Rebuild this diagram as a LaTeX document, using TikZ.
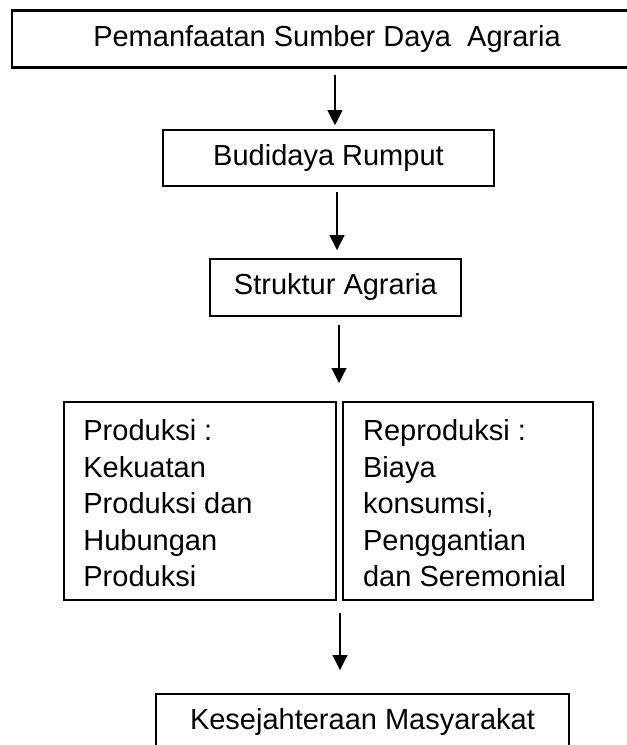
\documentclass[tikz,border=0pt]{standalone}
\usepackage{fontspec}
\setmainfont{Liberation Sans}
\usetikzlibrary{arrows.meta,positioning}

\begin{document}
\begin{tikzpicture}[
  x=0.5pt, y=-0.5pt,
  font=\fontsize{14.5}{18.25}\selectfont,
  box/.style={draw=black, line width=1.3pt, inner sep=0pt,
              text height=0.72em, text depth=0pt},
  txt/.style={align=left, inner sep=0pt, anchor=north west},
  arr/.style={-{Triangle[length=7.5pt,width=7.5pt]}, draw=black, line width=0.6pt}
]
\useasboundingbox (0,0) rectangle (627,745);

% Alur utama
\node[box, minimum width=315pt, minimum height=28.5pt] (pem) at (327,39)
     {Pemanfaatan Sumber Daya\ \ Agraria};
\node[box, minimum width=165.5pt, minimum height=28pt, below=30pt of pem,
      xshift=0.75pt] (bud) {Budidaya Rumput};
\node[box, minimum width=125.5pt, minimum height=28.5pt, below=35.2pt of bud,
      xshift=3.5pt] (str) {Struktur Agraria};

% Produksi dan reproduksi
\node[box, minimum width=136pt, minimum height=99pt] (prod) at (200,501) {};
\node[box, minimum width=125pt, minimum height=99pt] (repro) at (468,501) {};
\node[txt] (prodtxt) at ([xshift=10.15pt,yshift=-9.25pt]prod.north west)
     {Produksi :\\Kekuatan\\Produksi dan\\Hubungan\\Produksi};
\node[txt] (reprotxt) at ([xshift=10.5pt,yshift=-9.25pt]repro.north west)
     {Reproduksi :\\Biaya\\konsumsi,\\Penggantian\\dan Seremonial};

% Hasil
\node[box, minimum width=206.5pt, minimum height=28.5pt] (kes) at (362.5,722.5)
     {Kesejahteraan Masyarakat};

% Panah
\draw[arr, shorten <=3pt, shorten >=1.8pt]
  ([xshift=4pt]pem.south) -- ([xshift=4pt]pem.south |- bud.north);
\draw[arr, shorten <=2.35pt, shorten >=3.85pt]
  ([xshift=4.25pt]bud.south) -- ([xshift=4.25pt]bud.south |- str.north);
\draw[arr, shorten <=3.85pt, shorten >=8.85pt]
  ([xshift=1.75pt]str.south) -- ([xshift=1.75pt]str.south |- prod.north);
\draw[arr, shorten <=5.85pt, shorten >=11.35pt]
  ([xshift=1.35pt]prod.south east) -- ([xshift=1.35pt]prod.south east |- kes.north);
\end{tikzpicture}
\end{document}
